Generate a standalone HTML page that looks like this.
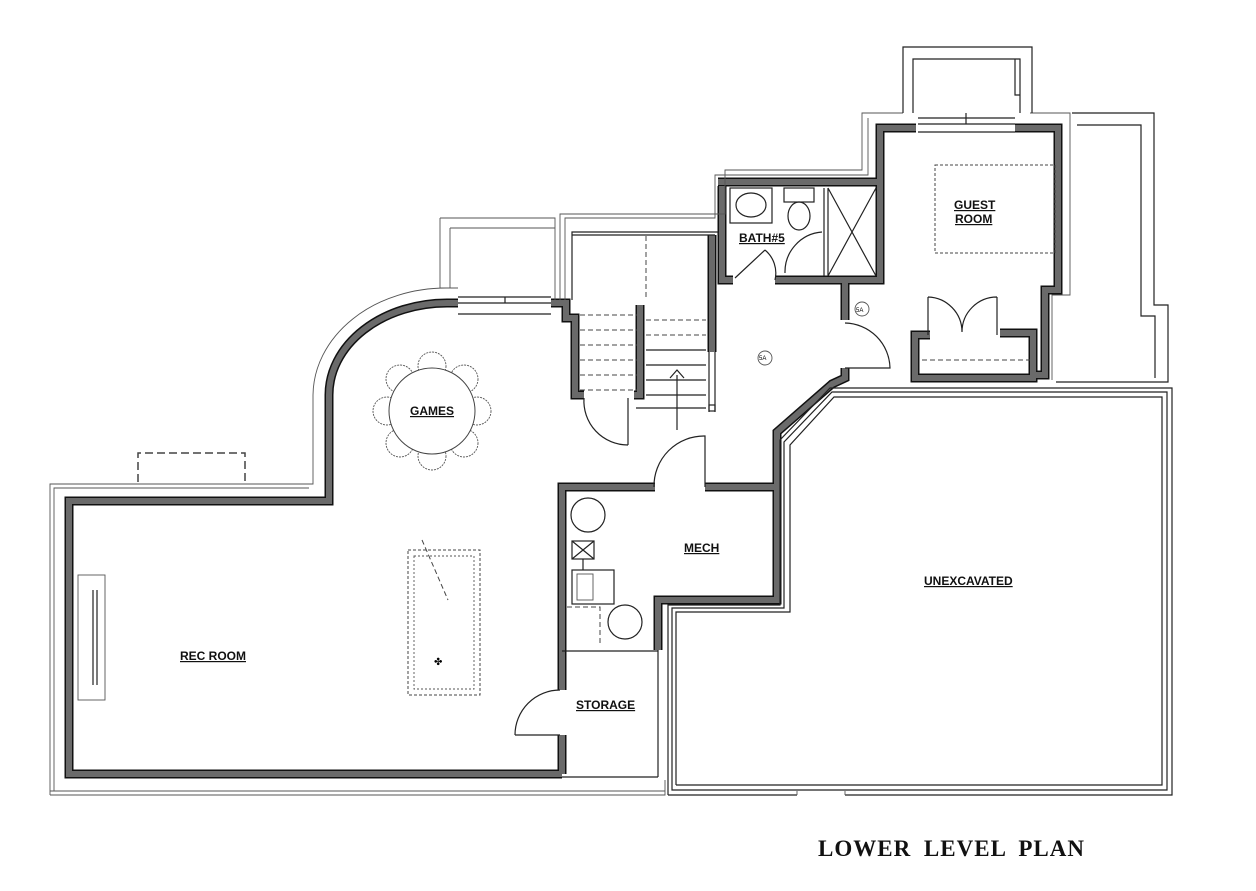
<!DOCTYPE html>
<html><head><meta charset="utf-8"><style>
html,body{margin:0;padding:0;background:#fff;width:1256px;height:891px;overflow:hidden}
svg{display:block}
.w{fill:none;stroke:#111;stroke-width:9;stroke-linejoin:miter}
.wi{fill:none;stroke:#6a6a6a;stroke-width:6;stroke-linejoin:miter}
.t{fill:none;stroke:#222;stroke-width:1.2}
.th{fill:none;stroke:#555;stroke-width:0.9}
.d{fill:none;stroke:#444;stroke-width:1;stroke-dasharray:5 3}
.lb{font-family:"Liberation Sans",sans-serif;font-weight:bold;font-size:12px;fill:#111;text-decoration:underline}
</style></head><body>
<svg width="1256" height="891" viewBox="0 0 1256 891" xmlns="http://www.w3.org/2000/svg">
<defs>
<g id="walls">
<path d="M562,774 L69,774 L69,501 L329,501 L329,395 A118,92 0 0 1 447,303 L458,303"/>
<path d="M551,303 L566,303 L566,318 L575,318 L575,395 L584,395"/>
<path d="M634,395 L640,395 L640,305"/>
<path d="M712,235 L712,352"/>
<path d="M722,186 L722,280 L733,280 M775,280 L880,280 L880,182 L718,182"/>
<path d="M845,280 L845,320 M845,368 L845,378 L832,384 L777,432 L777,487 L705,487 M655,487 L562,487 L562,690 M562,735 L562,774"/>
<path d="M777,487 L777,600 L658,600 L658,650"/>
<path d="M880,182 L880,128 L916,128 M1015,128 L1058,128 L1058,290 L1045,290 L1045,375 L1030,375"/>
<path d="M930,335 L915,335 L915,378 L1033,378 L1033,333 L1000,333"/>
</g>
</defs>
<use href="#walls" class="w"/>
<use href="#walls" class="wi"/>
<path class="t" d="M572,300 L572,232 L718,232 L718,235 M715,352 L715,412 M709,352 L709,412 M572,235 L715,235"/>
<rect x="709" y="405" width="6" height="6" class="t"/>
<path class="t" d="M562,651 L658,651 M658,650 L658,777 M562,777 L658,777"/>
<path class="th" d="M50,795 L665,795 L665,780 M50,795 L50,484 L313,484 L313,395 A133,108 0 0 1 447,288 L458,288"/>
<path class="th" d="M54,791 L54,488 L309,488 M440,218 L440,288 L458,288 M440,218 L555,218 L555,300 M560,300 L560,214 L725,214 L725,170 L862,170 L862,113 L903,113 M1030,113 L1070,113 L1070,295 L1052,295 L1052,380"/>
<path class="th" d="M450,228 L450,288 M450,228 L555,228 M565,300 L565,218 L715,218 L715,175 L868,175 L868,118"/>
<path class="t" d="M903,113 L903,47 L1032,47 L1032,113 M913,113 L913,59 L1020,59 L1020,113 M1015,59 L1015,95 L1020,95"/>
<path class="t" d="M918,118 L1015,118 M918,124 L1015,124 M918,132 L1015,132 M966,113 L966,124"/>
<path class="t" d="M1072,113 L1154,113 L1154,305 L1168,305 L1168,382 L1056,382 M1077,125 L1141,125 L1141,316 L1155,316 L1155,378"/>
<path class="t" d="M458,297 L551,297 M458,303 L551,303 M458,314 L551,314 M505,297 L505,303"/>
<path class="t" d="M668,795 L668,605 L780,605 L780,440 L830,388 L1172,388 L1172,795 L845,795 M797,795 L668,795"/>
<path class="t" d="M676,785 L676,612 L790,612 L790,445 L834,397 L1162,397 L1162,785 L676,785"/>
<path class="t" d="M672,790 L672,608 L784,608 L784,442 L832,392 L1167,392 L1167,790 Z"/>
<path class="th" d="M50,791 L665,791 M797,791 L797,795 M845,791 L845,795"/>
<g class="d"><path d="M580,315 L637,315 M580,330 L637,330 M580,345 L637,345 M580,360 L637,360 M580,375 L637,375 M580,390 L637,390 M646,320 L706,320 M646,335 L706,335 M646,236 L646,300"/></g>
<g class="t"><path d="M646,350 L706,350 M646,365 L706,365 M646,380 L706,380 M646,395 L706,395 M636,408 L706,408 M677,375 L677,430 M670,378 L677,370 L684,378"/></g>
<path class="t" d="M628,445 L628,398 M584,398 A44,44 0 0 0 628,445"/>
<path class="t" d="M654,487 A50,50 0 0 1 705,436 L705,487"/>
<path class="t" d="M735,278 L765,250 M765,250 A30,30 0 0 1 775,280"/>
<path class="t" d="M845,323 A46,46 0 0 1 890,368 L845,368"/>
<rect x="730" y="188" width="42" height="35" class="t"/><ellipse cx="751" cy="205" rx="15" ry="12" class="t"/>
<rect x="784" y="188" width="30" height="14" class="t"/><ellipse cx="799" cy="216" rx="11" ry="14" class="t"/>
<path class="t" d="M824,188 L824,276 M828,188 L828,276 M828,188 L876,276 M876,188 L828,276 M785,273 A40,40 0 0 1 822,232"/>
<text x="739" y="242" class="lb">BATH#5</text>
<circle cx="862" cy="309" r="7" class="th"/><text x="856" y="312" font-family="Liberation Sans" font-size="6">5A</text>
<circle cx="765" cy="358" r="7" class="th"/><text x="759" y="360" font-family="Liberation Sans" font-size="6">5A</text>
<rect x="935" y="165" width="120" height="88" class="d" style="stroke-dasharray:3 2"/>
<text x="954" y="209" class="lb">GUEST</text><text x="955" y="223" class="lb">ROOM</text>
<path class="t" d="M928,297 L928,335 M997,297 L997,335 M928,297 A35,35 0 0 1 962,332 M997,297 A35,35 0 0 0 962,332"/>
<path class="d" d="M922,360 L1030,360"/>
<g class="th" style="stroke-dasharray:2 1">
<circle cx="432" cy="366" r="14"/><circle cx="432" cy="456" r="14"/><circle cx="387" cy="411" r="14"/><circle cx="477" cy="411" r="14"/>
<circle cx="400" cy="379" r="14"/><circle cx="464" cy="379" r="14"/><circle cx="400" cy="443" r="14"/><circle cx="464" cy="443" r="14"/>
</g>
<circle cx="432" cy="411" r="43" fill="#fff" stroke="#444" stroke-width="1"/>
<text x="410" y="415" class="lb">GAMES</text>
<path class="d" d="M138,482 L138,453 L245,453 L245,482" style="stroke-width:1.5;stroke-dasharray:8 4"/>
<rect x="78" y="575" width="27" height="125" class="th"/><path class="t" d="M93,590 L93,685 M97,590 L97,685"/>
<rect x="408" y="550" width="72" height="145" class="d" style="stroke-dasharray:3 2"/>
<rect x="414" y="556" width="60" height="133" class="th" style="stroke-dasharray:2 2"/>
<path class="d" d="M422,540 L448,600"/><text x="434" y="665" font-size="10" font-family="DejaVu Sans">✤</text>
<text x="180" y="660" class="lb">REC ROOM</text>
<circle cx="588" cy="515" r="17" class="t"/><circle cx="625" cy="622" r="17" class="t"/>
<rect x="572" y="541" width="22" height="18" class="t"/><path class="t" d="M572,541 L594,559 M594,541 L572,559 M583,559 L583,570"/>
<rect x="572" y="570" width="42" height="34" class="t"/><rect x="577" y="574" width="16" height="26" class="th"/>
<path class="d" d="M567,607 L600,607 L600,645"/>
<text x="684" y="552" class="lb">MECH</text>
<text x="576" y="709" class="lb">STORAGE</text>
<path class="t" d="M515,735 A45,45 0 0 1 560,690 M515,735 L560,735"/>
<text x="924" y="585" class="lb">UNEXCAVATED</text>
<text x="818" y="856" font-family="Liberation Serif" font-weight="bold" font-size="23" letter-spacing="1" fill="#111" word-spacing="6">LOWER LEVEL PLAN</text>
</svg>
</body></html>
